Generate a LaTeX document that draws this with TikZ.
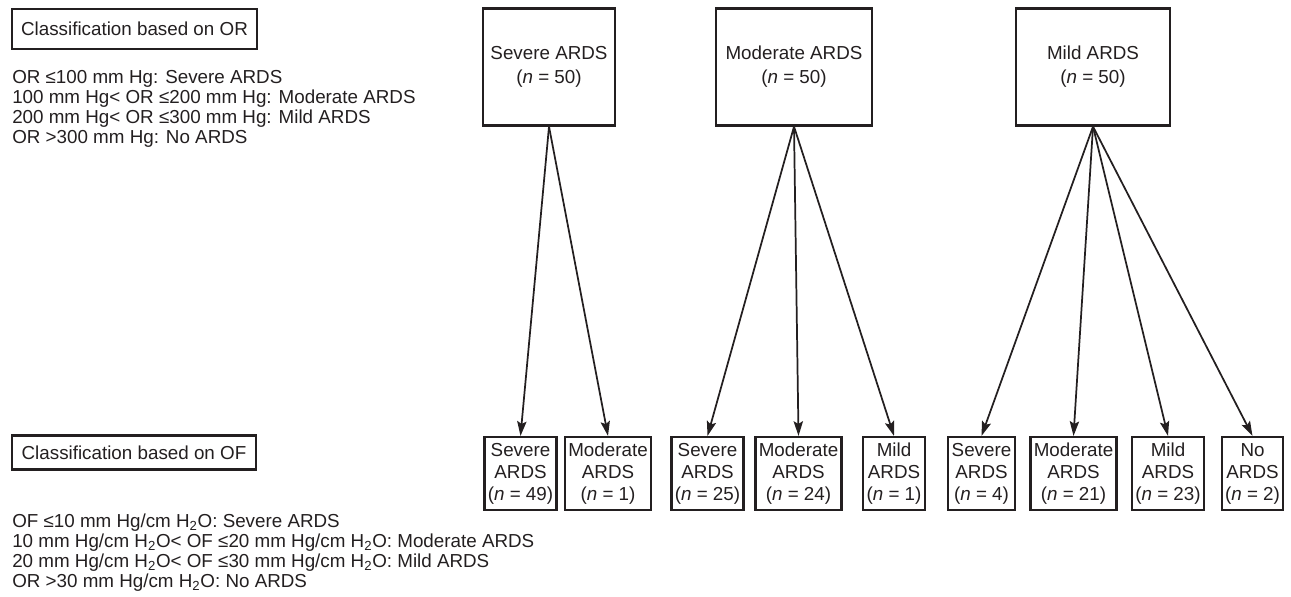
\documentclass[tikz,border=0pt]{standalone}
\usepackage{fontspec}
\setmainfont{Liberation Sans}
\usetikzlibrary{arrows.meta}
\definecolor{ink}{RGB}{35,31,32}
\begin{document}
\begin{tikzpicture}[x=0.75pt,y=0.75pt,>={Stealth[length=11pt,width=7pt,inset=2pt]},color=ink,
    every node/.style={font=\fontsize{14.1}{15}\selectfont},
    hd/.style={draw,line width=1.6pt,inner xsep=7pt},
    grp/.style={draw,line width=1.6pt,align=center,minimum height=87.75pt,font=\fontsize{14.1}{18}\selectfont},
    sub/.style={draw,line width=1.6pt,align=center,minimum height=54.75pt,inner xsep=2.5pt,font=\fontsize{14.1}{16.5}\selectfont},
    lst/.style={align=left,inner sep=0pt,anchor=west},
    arr/.style={->,line width=1.3pt}]
    \useasboundingbox (0,0) rectangle (1291,-596);
    \node[hd,minimum height=30pt](orBox) at (134.5,-29){Classification based on OR};
    \node[lst](orText) at (12,-109){OR ≤100 mm Hg: Severe ARDS\\100 mm Hg< OR ≤200 mm Hg: Moderate ARDS\\200 mm Hg< OR ≤300 mm Hg: Mild ARDS\\OR >300 mm Hg: No ARDS};
    \node[hd,minimum height=25.5pt](ofBox) at (134,-452.5){Classification based on OF};
    \node[lst](ofText) at (12,-553){OF ≤10 mm Hg/cm H\textsubscript{2}O: Severe ARDS\\10 mm Hg/cm H\textsubscript{2}O< OF ≤20 mm Hg/cm H\textsubscript{2}O: Moderate ARDS\\20 mm Hg/cm H\textsubscript{2}O< OF ≤30 mm Hg/cm H\textsubscript{2}O: Mild ARDS\\OR >30 mm Hg/cm H\textsubscript{2}O: No ARDS};
    \node[grp,minimum width=99pt](sevTop) at (549,-67){Severe ARDS\\(\textit{n} = 50)};
    \node[grp,minimum width=117pt](modTop) at (794,-67){Moderate ARDS\\(\textit{n} = 50)};
    \node[grp,minimum width=115.5pt](mildTop) at (1093,-67){Mild ARDS\\(\textit{n} = 50)};
    \node[sub](sevSev) at (520.5,-473.5){Severe\\ARDS\\(\textit{n} = 49)};
    \node[sub](sevMod) at (608,-473.5){Moderate\\ARDS\\(\textit{n} = 1)};
    \node[sub](modSev) at (707.5,-473.5){Severe\\ARDS\\(\textit{n} = 25)};
    \node[sub](modMod) at (798.5,-473.5){Moderate\\ARDS\\(\textit{n} = 24)};
    \node[sub](modMild) at (894,-473.5){Mild\\ARDS\\(\textit{n} = 1)};
    \node[sub](mildSev) at (981.5,-473.5){Severe\\ARDS\\(\textit{n} = 4)};
    \node[sub](mildMod) at (1073.5,-473.5){Moderate\\ARDS\\(\textit{n} = 21)};
    \node[sub](mildMild) at (1168,-473.5){Mild\\ARDS\\(\textit{n} = 23)};
    \node[sub](mildNo) at (1252.5,-473.5){No\\ARDS\\(\textit{n} = 2)};
    \draw[arr](sevTop.south)--(sevSev.north);
    \draw[arr](sevTop.south)--(sevMod.north);
    \draw[arr](modTop.south)--(modSev.north);
    \draw[arr](modTop.south)--(modMod.north);
    \draw[arr](modTop.south)--(modMild.north);
    \draw[arr](mildTop.south)--(mildSev.north);
    \draw[arr](mildTop.south)--(mildMod.north);
    \draw[arr](mildTop.south)--(mildMild.north);
    \draw[arr](mildTop.south)--(mildNo.north);
\end{tikzpicture}
\end{document}
